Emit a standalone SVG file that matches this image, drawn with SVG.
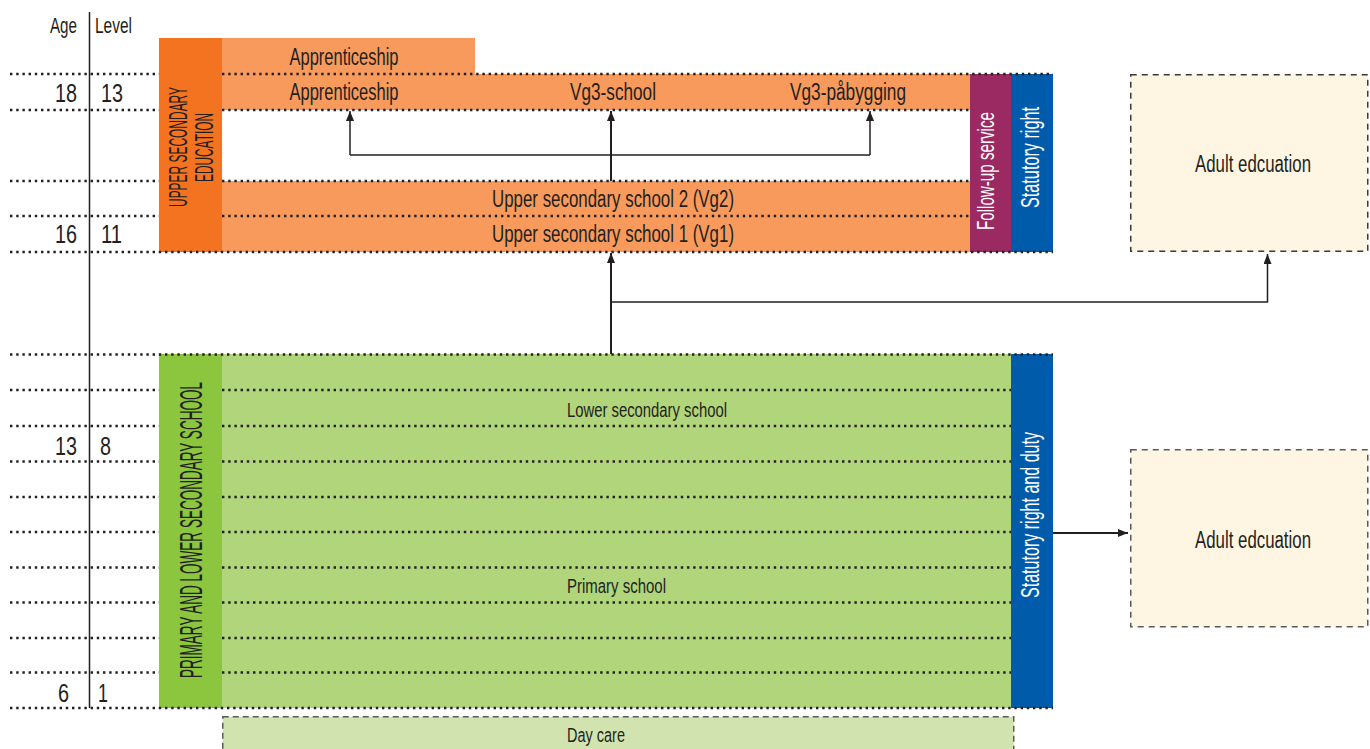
<svg xmlns="http://www.w3.org/2000/svg" width="1370" height="749" viewBox="0 0 1370 749">
<style>
.t{font-family:"Liberation Sans Narrow","Liberation Sans",Arial,sans-serif;fill:#231f20;}
.w{fill:#ffffff;}
.c{text-anchor:middle;}
.e{text-anchor:end;}
.dot{stroke:#231f20;stroke-width:2.4;stroke-dasharray:2.4 3.8;fill:none;}
.ar{stroke:#231f20;stroke-width:1.5;fill:none;}
.dash{stroke:#3a3a3a;stroke-width:1.5;stroke-dasharray:6 5;}
</style>
<defs>
<marker id="ah" markerUnits="userSpaceOnUse" markerWidth="10" markerHeight="8" refX="10" refY="4" orient="auto">
<path d="M0,0 L10,4 L0,8 z" fill="#231f20"/>
</marker>
</defs>
<rect width="1370" height="749" fill="#ffffff"/>

<g id="axis">
<line x1="89.5" y1="12" x2="89.5" y2="708" stroke="#231f20" stroke-width="1.5"/>
<text class="t e" x="77" y="33" font-size="22" textLength="27" lengthAdjust="spacingAndGlyphs">Age</text>
<text class="t" x="95" y="33" font-size="22" textLength="37" lengthAdjust="spacingAndGlyphs">Level</text>
<text class="t e" x="77" y="102" font-size="25" textLength="22" lengthAdjust="spacingAndGlyphs">18</text>
<text class="t" x="101" y="102" font-size="25" textLength="22" lengthAdjust="spacingAndGlyphs">13</text>
<text class="t e" x="77" y="243" font-size="25" textLength="22" lengthAdjust="spacingAndGlyphs">16</text>
<text class="t" x="101" y="243" font-size="25" textLength="21" lengthAdjust="spacingAndGlyphs">11</text>
<text class="t e" x="77" y="455" font-size="25" textLength="22" lengthAdjust="spacingAndGlyphs">13</text>
<text class="t" x="100" y="455" font-size="25" textLength="11" lengthAdjust="spacingAndGlyphs">8</text>
<text class="t e" x="69" y="702" font-size="25" textLength="11" lengthAdjust="spacingAndGlyphs">6</text>
<text class="t" x="98" y="702" font-size="25" textLength="10" lengthAdjust="spacingAndGlyphs">1</text>
</g>

<g id="upper-secondary">
<rect x="159" y="38" width="63" height="214" fill="#f37321"/>
<rect x="222" y="38" width="253" height="36" fill="#f79a5c"/>
<rect x="222" y="74" width="748" height="36" fill="#f79a5c"/>
<rect x="222" y="181" width="748" height="71" fill="#f79a5c"/>
<rect x="970" y="74" width="41" height="178" fill="#9b2962"/>
<rect x="1011" y="74" width="42" height="178" fill="#005baa"/>
</g>

<g id="primary-lower">
<rect x="159" y="354" width="63" height="354" fill="#8cc63f"/>
<rect x="222" y="354" width="789" height="354" fill="#b0d57a"/>
<rect x="1011" y="354" width="42" height="354" fill="#005baa"/>
</g>

<g id="day-care">
<rect x="222.75" y="716.75" width="791" height="45" fill="#d1e4b0" stroke="#5a5a5a" stroke-width="1.5" stroke-dasharray="6 4"/>
<text class="t c" x="596" y="742" font-size="20" textLength="58" lengthAdjust="spacingAndGlyphs">Day care</text>
</g>

<g id="adult-education-1">
<rect x="1130.75" y="74.75" width="237" height="176.5" fill="#fef5e2" class="dash"/>
<text class="t c" x="1253" y="172" font-size="23" textLength="116" lengthAdjust="spacingAndGlyphs">Adult edcuation</text>
</g>
<g id="adult-education-2">
<rect x="1130.75" y="449.75" width="237" height="177" fill="#fef5e2" class="dash" style="stroke:#5a5a5a"/>
<text class="t c" x="1253" y="548" font-size="23" textLength="116" lengthAdjust="spacingAndGlyphs">Adult edcuation</text>
</g>

<g id="dotted-grid">
<path class="dot" d="M10,74H159M222,74H1053"/>
<path class="dot" d="M10,110H159M222,110H970"/>
<path class="dot" d="M10,181H159M222,181H970"/>
<path class="dot" d="M10,216H159M222,216H970"/>
<path class="dot" d="M10,252H1053"/>
<path class="dot" d="M10,354.5H1053"/>
<path class="dot" d="M10,390H159M222,390H1011"/>
<path class="dot" d="M10,426H159M222,426H1011"/>
<path class="dot" d="M10,461.5H159M222,461.5H1011"/>
<path class="dot" d="M10,497H159M222,497H1011"/>
<path class="dot" d="M10,532H159M222,532H1011"/>
<path class="dot" d="M10,567.5H159M222,567.5H1011"/>
<path class="dot" d="M10,602.5H159M222,602.5H1011"/>
<path class="dot" d="M10,638H159M222,638H1011"/>
<path class="dot" d="M10,672.5H159M222,672.5H1011"/>
<path class="dot" d="M10,708H1053"/>
</g>

<g id="labels-upper">
<text class="t c" x="344" y="65" font-size="23" textLength="109" lengthAdjust="spacingAndGlyphs">Apprenticeship</text>
<text class="t c" x="344" y="100" font-size="23" textLength="109" lengthAdjust="spacingAndGlyphs">Apprenticeship</text>
<text class="t c" x="613" y="100" font-size="23" textLength="86" lengthAdjust="spacingAndGlyphs">Vg3-school</text>
<text class="t c" x="848" y="100" font-size="23" textLength="116" lengthAdjust="spacingAndGlyphs">Vg3-påbygging</text>
<text class="t c" x="613" y="207" font-size="23" textLength="242" lengthAdjust="spacingAndGlyphs">Upper secondary school 2 (Vg2)</text>
<text class="t c" x="613" y="242" font-size="23" textLength="242" lengthAdjust="spacingAndGlyphs">Upper secondary school 1 (Vg1)</text>
<text class="t c" transform="translate(187,147) rotate(-90)" font-size="26" textLength="120" lengthAdjust="spacingAndGlyphs">UPPER SECONDARY</text>
<text class="t c" transform="translate(213,147.5) rotate(-90)" font-size="26" textLength="69" lengthAdjust="spacingAndGlyphs">EDUCATION</text>
<text class="t w c" transform="translate(994,171) rotate(-90)" font-size="24" textLength="118" lengthAdjust="spacingAndGlyphs">Follow-up service</text>
<text class="t w c" transform="translate(1039,157.5) rotate(-90)" font-size="25" textLength="101" lengthAdjust="spacingAndGlyphs">Statutory right</text>
</g>

<g id="labels-lower">
<text class="t c" x="647" y="417" font-size="20" textLength="160" lengthAdjust="spacingAndGlyphs">Lower secondary school</text>
<text class="t c" x="616.5" y="593" font-size="20" textLength="99" lengthAdjust="spacingAndGlyphs">Primary school</text>
<text class="t c" transform="translate(202,530) rotate(-90)" font-size="31" textLength="296" lengthAdjust="spacingAndGlyphs">PRIMARY AND LOWER SECONDARY SCHOOL</text>
<text class="t w c" transform="translate(1039,515) rotate(-90)" font-size="25" textLength="166" lengthAdjust="spacingAndGlyphs">Statutory right and duty</text>
</g>

<g id="connectors">
<path class="ar" d="M611,181V111" style="stroke-width:2" marker-end="url(#ah)"/>
<path class="ar" d="M350,155H870"/>
<path class="ar" d="M350,155V111" marker-end="url(#ah)"/>
<path class="ar" d="M870,155V111" marker-end="url(#ah)"/>
<path class="ar" d="M611,354V253" style="stroke-width:2" marker-end="url(#ah)"/>
<path class="ar" d="M611,302H1267.5V254" marker-end="url(#ah)"/>
<path class="ar" d="M1053,533H1128" style="stroke-width:2" marker-end="url(#ah)"/>
</g>
</svg>
